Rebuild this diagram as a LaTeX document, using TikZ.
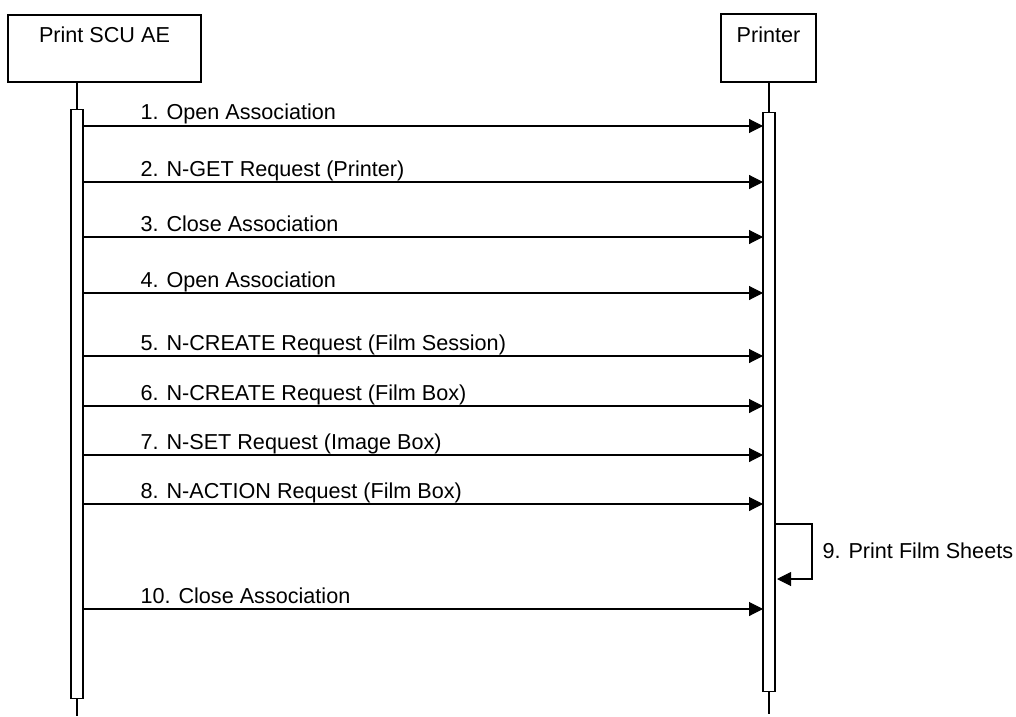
\documentclass[tikz,border=0pt]{standalone}
\usepackage{fontspec}
\setmainfont{Liberation Sans}
\usetikzlibrary{arrows.meta}

\begin{document}
\begin{tikzpicture}[
  x=0.02cm, y=-0.02cm,
  line width=0.6pt,
  font=\fontsize{12.3}{14}\selectfont,
  actor/.style={draw, outer sep=0pt, inner sep=0pt},
  actortext/.style={anchor=base, inner sep=0pt},
  bar/.style={draw, fill=white, minimum width=0.24cm, outer sep=0pt, inner sep=0pt},
  msg/.style={-{Triangle[length=0.28cm, width=0.28cm]}},
  lbl/.style={anchor=base west, inner sep=0pt}
]
  \useasboundingbox (0,0) rectangle (1016,716);

  % Actors
  \node[actor, minimum width=3.86cm, minimum height=1.34cm] (scu) at (104.5,48.5) {};
  \node[actortext] (scutext) at (104.5,43) {Print SCU AE};
  \node[actor, minimum width=1.9cm, minimum height=1.36cm] (prt) at (768.5,48) {};
  \node[actortext] (prttext) at (768.5,43) {Printer};

  % Lifelines
  \coordinate (scuend) at (77,716);
  \coordinate (prtend) at (769,714);
  \draw (scu.south -| scuend) -- (scuend);
  \draw (prt.south -| prtend) -- (prtend);

  % Activation bars
  \node[bar, minimum height=11.8cm] (scubar) at (77,404) {};
  \node[bar, minimum height=11.6cm] (prtbar) at (769,402) {};

  % --- MESSAGES ---
  \foreach \y/\txt in {126/1. Open Association,
                       182/2. N-GET Request (Printer),
                       237/3. Close Association,
                       293/4. Open Association,
                       356/5. N-CREATE Request (Film Session),
                       406/6. N-CREATE Request (Film Box),
                       455/7. N-SET Request (Image Box),
                       504/8. N-ACTION Request (Film Box),
                       609/10. Close Association} {
    \draw[msg] (scubar.east |- 0,\y) -- (prtbar.west |- 0,\y);
    \node[lbl] (msg\y) at (140,\y-6) {\txt};
  }

  % Self message
  \draw[msg] (prtbar.east |- 0,524) -- (812,524) -- (812,579) -- ([xshift=0.04cm]prtbar.east |- 0,579);
  \node[lbl] (print) at (822,558) {9. Print Film Sheets};

\end{tikzpicture}
\end{document}
